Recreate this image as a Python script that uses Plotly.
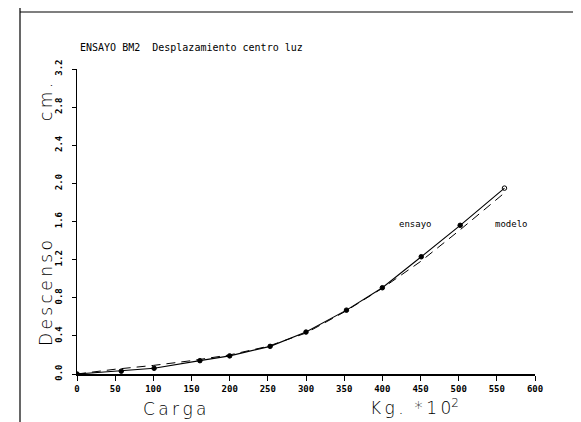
import plotly.graph_objects as go

# Data
carga_ensayo = [0, 58, 101, 161, 200, 253, 300, 353, 400, 451, 502, 560]
descenso_ensayo = [0.0, 0.03, 0.06, 0.14, 0.19, 0.29, 0.44, 0.67, 0.905, 1.23, 1.56, 1.95]

carga_modelo = [0, 50, 100, 150, 200, 250, 300, 350, 400, 450, 500, 557]
descenso_modelo = [0.0, 0.05, 0.09, 0.14, 0.20, 0.29, 0.43, 0.65, 0.90, 1.18, 1.50, 1.88]

x_ticks = [0, 50, 100, 150, 200, 250, 300, 350, 400, 450, 500, 550, 600]
y_ticks = [0.0, 0.4, 0.8, 1.2, 1.6, 2.0, 2.4, 2.8, 3.2]
y_ticktext = ["0.0", "0.4", "0.8", "1.2", "1.6", "2.0", "2.4", "2.8", "3.2"]

mono = "DejaVu Sans Mono"
sp = "\u2009"

def spaced(s):
    return sp.join(list(s))

fig = go.Figure()
fig.add_trace(go.Scatter(
    x=carga_modelo, y=descenso_modelo, mode="lines",
    line=dict(color="black", width=1, dash="9px,6px"),
    showlegend=False, hoverinfo="skip"))
symbols = ["circle"] * (len(carga_ensayo) - 1) + ["circle-open"]
fig.add_trace(go.Scatter(
    x=carga_ensayo, y=descenso_ensayo, mode="lines+markers",
    line=dict(color="black", width=1.1),
    marker=dict(color="black", size=4.5, symbol=symbols, line=dict(color="black", width=1)),
    showlegend=False))

fig.update_layout(
    width=581, height=422,
    margin=dict(l=69, r=54, t=61, b=56),
    paper_bgcolor="white", plot_bgcolor="white",
    font=dict(family=mono, color="black", size=9),
    xaxis=dict(range=[0, 600], tickmode="array", tickvals=x_ticks,
               showgrid=False, zeroline=False, showline=True, linecolor="black",
               linewidth=1.5, ticks="outside", ticklen=5, tickcolor="black",
               tickfont=dict(family=mono, size=9, color="black", weight="bold")),
    yaxis=dict(range=[0, 3.2], tickmode="array", tickvals=y_ticks, ticktext=y_ticktext,
               showgrid=False, zeroline=False, showline=True, linecolor="black",
               linewidth=1, ticks="outside", ticklen=4, tickcolor="black",
               tickangle=-90, ticklabelstandoff=6,
               tickfont=dict(family=mono, size=9, color="black", weight="bold")),
)

annots = [
    dict(text="ENSAYO BM2  Desplazamiento centro luz", x=70, y=40, size=10, angle=0, xanchor="left"),
    dict(text=spaced("Descenso"), x=38, y=285, size=17, angle=-90, xanchor="center"),
    dict(text=spaced("cm."), x=38, y=94, size=17, angle=-90, xanchor="center"),
    dict(text=spaced("Carga"), x=166, y=401, size=17, angle=0, xanchor="center"),
    dict(text=spaced("Kg.") + "  " + spaced("*10") + "<sup>2</sup>", x=406, y=399, size=17, angle=0,
         xanchor="center"),
    dict(text="ensayo", x=407, y=216, size=9, angle=0, xanchor="center"),
    dict(text="modelo", x=503, y=216, size=9, angle=0, xanchor="center"),
]
for a in annots:
    fig.add_annotation(
        text=a["text"], xref="paper", yref="paper",
        x=(a["x"] - 69) / (581 - 69 - 54), y=(366 - a["y"]) / (366 - 61),
        xanchor=a["xanchor"], yanchor="middle", showarrow=False,
        textangle=a["angle"],
        font=dict(family=mono if a["size"] < 12 else "DejaVu Sans", size=a["size"], color="black",
                  weight="normal" if a["size"] < 12 else 300))

# page frame lines
def px_x(p):
    return (p - 69) / (581 - 69 - 54)

def px_y(p):
    return (366 - p) / (366 - 61)

fig.add_shape(type="line", xref="paper", yref="paper", x0=px_x(12), x1=px_x(12), y0=px_y(0), y1=px_y(422),
              line=dict(color="black", width=1.2))
fig.add_shape(type="line", xref="paper", yref="paper", x0=px_x(12), x1=px_x(581), y0=px_y(4), y1=px_y(4),
              line=dict(color="black", width=1.2))
fig.add_shape(type="line", xref="paper", yref="paper", x0=px_x(572), x1=px_x(572), y0=px_y(0), y1=px_y(340),
              line=dict(color="black", width=1.2))

fig.write_html("out.html")
